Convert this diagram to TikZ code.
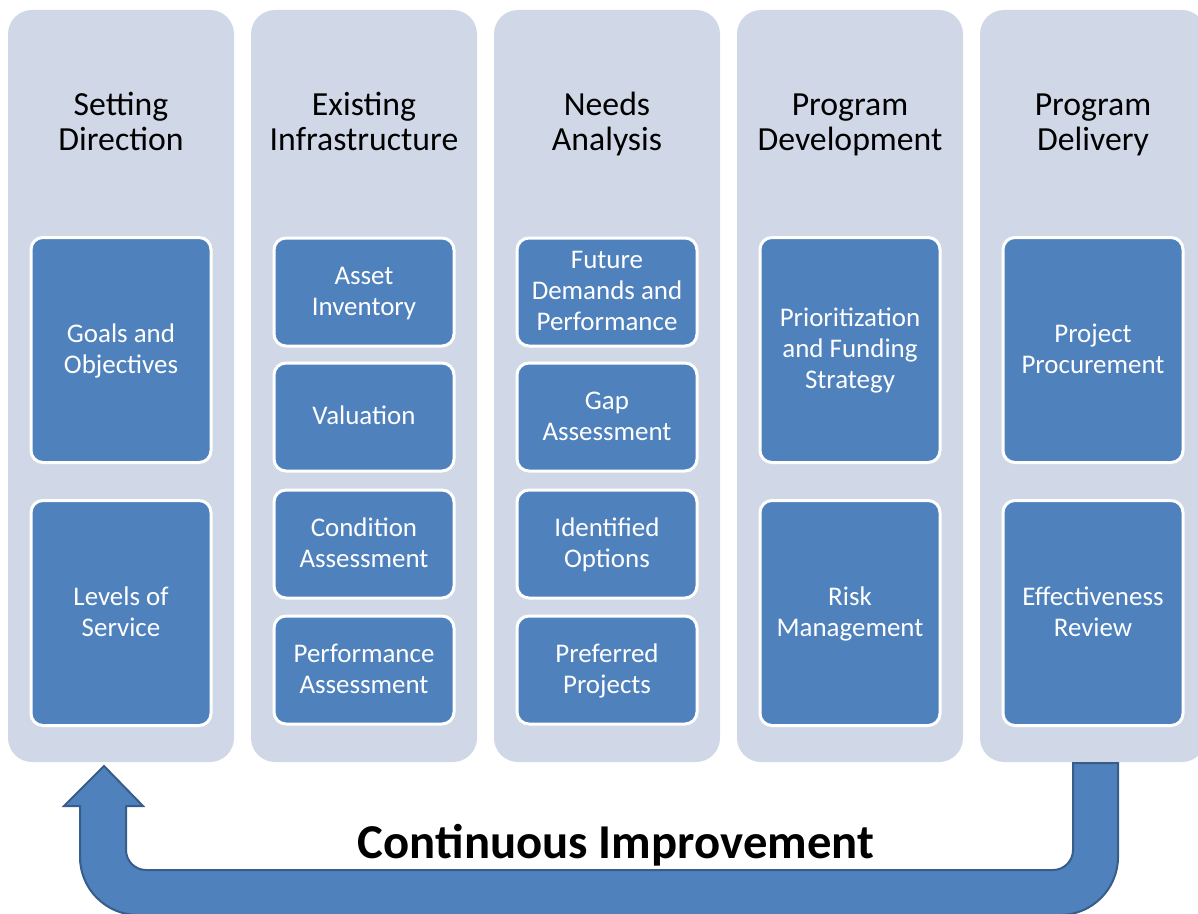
\documentclass[tikz,border=0pt]{standalone}
\usepackage{fontspec}
\setmainfont{Carlito}
\definecolor{colFill}{HTML}{D0D8E8}
\definecolor{boxFill}{HTML}{4F81BD}
\definecolor{arrowLine}{HTML}{385D8A}
\newcommand{\boxtop}{\rule{0pt}{18.6pt}}
\newcommand{\boxend}{\rule[-7pt]{0pt}{7pt}}
\tikzset{
  column/.style={fill=colFill, rounded corners=18pt},
  head/.style={align=center, inner sep=0pt, text=black, font=\fontsize{25.3}{26.25}\selectfont},
  smallbox/.style={draw=white, line width=2.25pt, fill=boxFill, rounded corners=9pt, text=white, align=center, inner sep=0pt, minimum width=135pt, minimum height=81pt, font=\fontsize{20.2}{23.4}\selectfont},
  bigbox/.style={smallbox, minimum height=168.75pt},
}
\begin{document}
\begin{tikzpicture}[x=0.75pt,y=0.75pt,yscale=-1,xscale=1]
    \useasboundingbox (0,0) rectangle (1198,913);

    % Columns
    \fill [column] (8,10) rectangle (234,762);
    \fill [column] (251,10) rectangle (477,762);
    \fill [column] (494,10) rectangle (720,762);
    \fill [column] (737,10) rectangle (963,762);
    \fill [column] (980,10) rectangle (1206,762);

    % Text Node
    \draw (121,126) node (hSetting) [head] {\strut Setting\\Direction\strut};
    % Text Node
    \draw (364,126) node (hExisting) [head] {\strut Existing\\Infrastructure\strut};
    % Text Node
    \draw (607,126) node (hNeeds) [head] {\strut Needs\\Analysis\strut};
    % Text Node
    \draw (850,126) node (hDevelop) [head] {\strut Program\\Development\strut};
    % Text Node
    \draw (1093,126) node (hDelivery) [head] {\strut Program\\Delivery\strut};

    % Setting Direction
    \draw (121,350) node (goals) [bigbox] {\boxtop Goals and\\Objectives\boxend};
    \draw (121,613) node (levels) [bigbox] {\boxtop Levels of\\Service\boxend};

    % Existing Infrastructure
    \draw (364,292) node (inventory) [smallbox] {\boxtop Asset\\Inventory\boxend};
    \draw (364,417) node (valuation) [smallbox] {\boxtop Valuation\boxend};
    \draw (364,544) node (condition) [smallbox] {\boxtop Condition\\Assessment\boxend};
    \draw (364,670) node (performance) [smallbox] {\boxtop Performance\\Assessment\boxend};

    % Needs Analysis
    \draw (607,292) node (demands) [smallbox] {\boxtop Future\\Demands and\\Performance\boxend};
    \draw (607,417) node (gap) [smallbox] {\boxtop Gap\\Assessment\boxend};
    \draw (607,544) node (options) [smallbox] {\boxtop Identified\\Options\boxend};
    \draw (607,670) node (preferred) [smallbox] {\boxtop Preferred\\Projects\boxend};

    % Program Development
    \draw (850,350) node (funding) [bigbox] {\boxtop Prioritization\\and Funding\\Strategy\boxend};
    \draw (850,613) node (risk) [bigbox] {\boxtop Risk\\Management\boxend};

    % Program Delivery
    \draw (1093,350) node (procurement) [bigbox] {\boxtop Project\\Procurement\boxend};
    \draw (1093,613) node (review) [bigbox] {\boxtop Effectiveness\\Review\boxend};

    % U-turn arrow
    \draw [draw=arrowLine, line width=1.5pt, fill=boxFill, line join=miter] (1073,763) -- (1118,763) -- (1118,857) .. controls (1118,889) and (1092,915) .. (1060,915) -- (138,915) .. controls (106,915) and (80,889) .. (80,857) -- (80,806) -- (64,806) -- (104,766) -- (143,806) -- (126,806) -- (126,850) .. controls (126,861) and (135,870) .. (146,870) -- (1053,870) .. controls (1064,870) and (1073,861) .. (1073,850) -- cycle;

    % Text Node
    \draw (616,845) node (loop) [inner sep=0pt, font=\fontsize{36.5}{40}\selectfont\bfseries] {Continuous Improvement};
\end{tikzpicture}
\end{document}
